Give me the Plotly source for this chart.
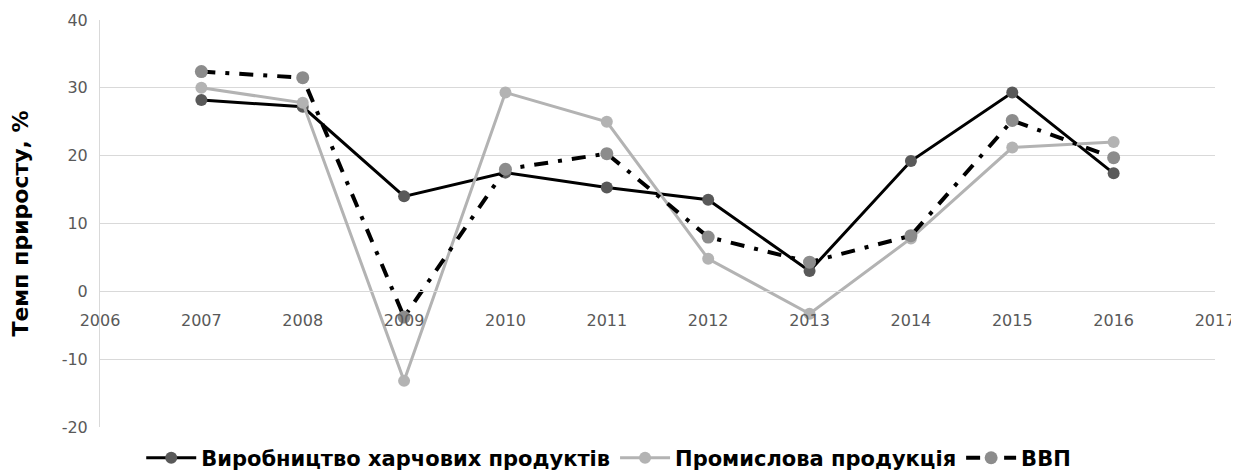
import plotly.graph_objects as go

years = [2007, 2008, 2009, 2010, 2011, 2012, 2013, 2014, 2015, 2016]
food = [28.2, 27.2, 14.0, 17.5, 15.3, 13.5, 3.0, 19.2, 29.3, 17.4]
industry = [30.0, 27.8, -13.2, 29.3, 25.0, 4.8, -3.3, 7.8, 21.2, 22.0]
gdp = [32.4, 31.5, -3.8, 18.0, 20.3, 8.0, 4.3, 8.2, 25.2, 19.7]

names = ["Виробництво харчових продуктів", "Промислова продукція", "ВВП"]
y_title = "Темп приросту, %"
y_tickvals = [-20, -10, 0, 10, 20, 30, 40]
y_ticktext = ["-20", "-10", "0", "10", "20", "30", "40"]

fig = go.Figure()
fig.add_trace(go.Scatter(x=years, y=food, name=names[0], mode="lines+markers",
                         line=dict(color="#000000", width=3),
                         marker=dict(color="#595959", size=12)))
fig.add_trace(go.Scatter(x=years, y=industry, name=names[1], mode="lines+markers",
                         line=dict(color="#b3b3b3", width=3),
                         marker=dict(color="#b3b3b3", size=12)))
fig.add_trace(go.Scatter(x=years, y=gdp, name=names[2], mode="lines+markers",
                         line=dict(color="#000000", width=4, dash="14px,10px,4px,10px"),
                         marker=dict(color="#8c8c8c", size=13)))

fig.update_layout(
    width=1231, height=465,
    margin=dict(l=92, r=24, t=12, b=46, autoexpand=False),
    paper_bgcolor="white", plot_bgcolor="white",
    font=dict(family="DejaVu Sans, sans-serif", color="#595959", size=16),
    legend=dict(orientation="h", x=0.488, xanchor="center", xref="container",
                y=0.032, yanchor="middle", yref="container",
                font=dict(family="DejaVu Sans, sans-serif", size=21, color="#000000", weight="bold"),
                itemwidth=50, traceorder="normal"),
    xaxis=dict(range=[2006, 2017], dtick=1, tick0=2006, showgrid=False, automargin=False,
               anchor="free", position=1/3, showline=True, linecolor="#d9d9d9", linewidth=1,
               ticks="outside", ticklen=14, tickcolor="rgba(0,0,0,0)",
               zeroline=False, tickfont=dict(size=16, color="#595959")),
    yaxis=dict(range=[-20, 40], tickvals=y_tickvals, ticktext=y_ticktext,
               showgrid=True, gridcolor="#d9d9d9", gridwidth=1,
               automargin=False,
               zeroline=False, showline=True, linecolor="#d9d9d9", ticks="outside",
               ticklen=8, tickcolor="rgba(0,0,0,0)",
               tickfont=dict(size=16, color="#595959"),
               title=dict(text=y_title, standoff=26,
                          font=dict(family="DejaVu Sans, sans-serif", size=22, color="#000000", weight="bold"))),
)

fig.write_html("out.html")
